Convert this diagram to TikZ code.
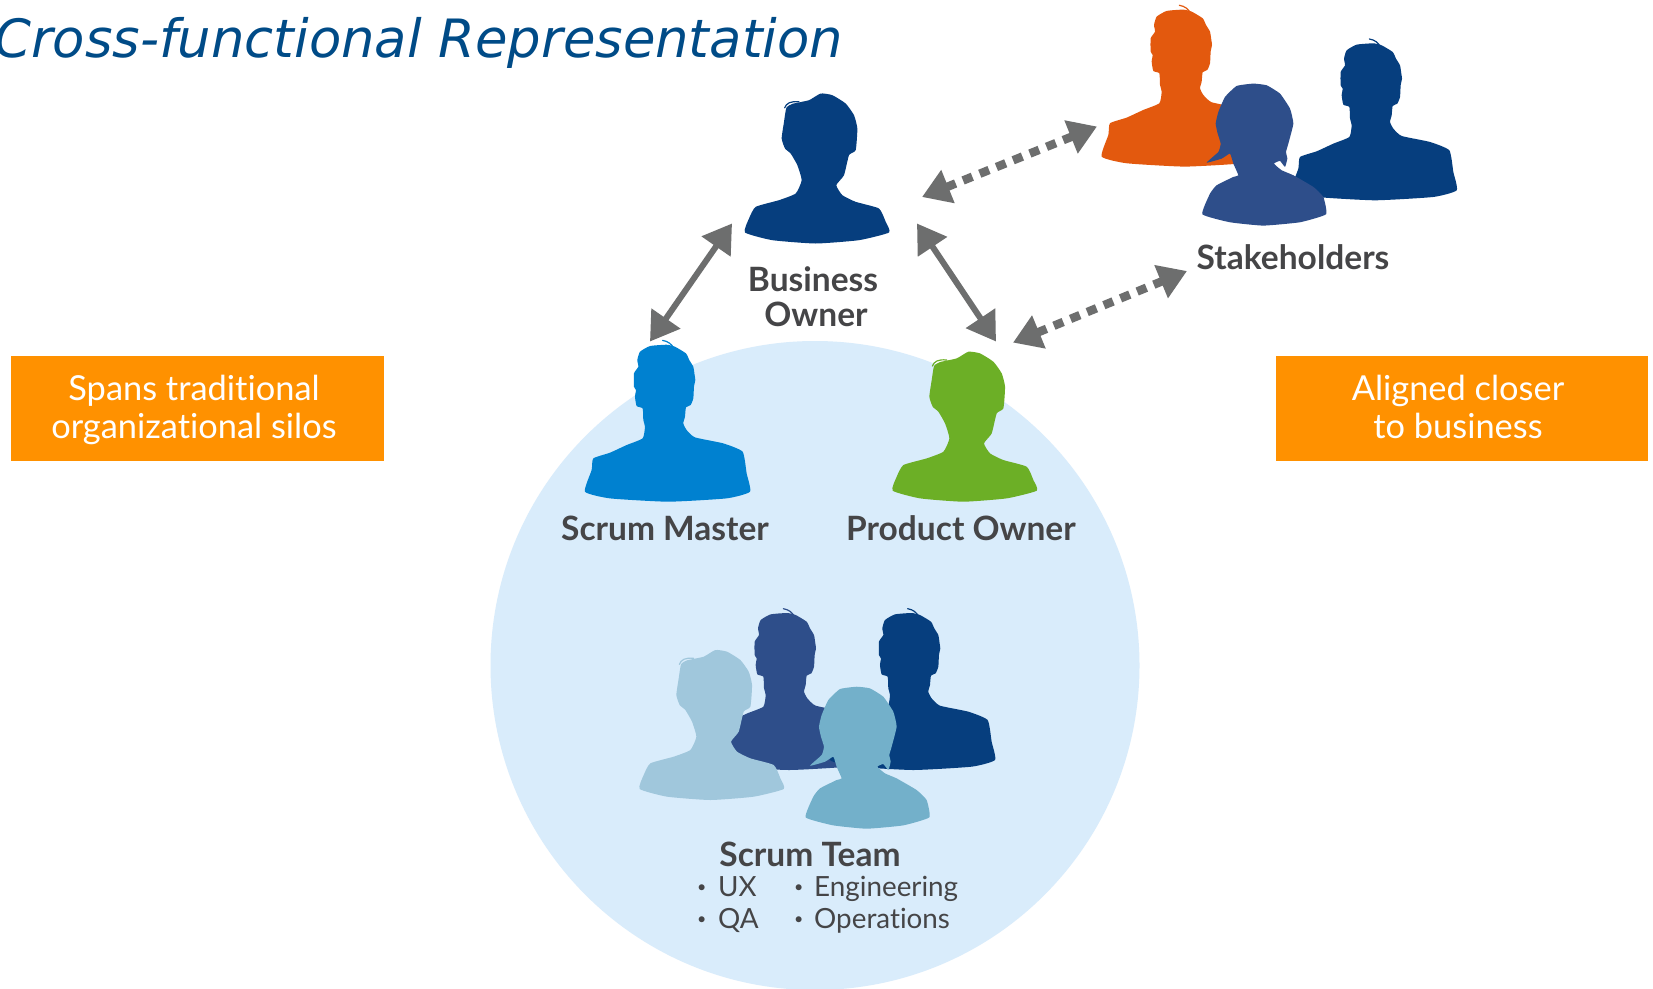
\documentclass[tikz,border=0pt]{standalone}
\usepackage{fontspec}
\setmainfont[RawFeature=-liga]{Lato}
\newfontfamily\titlefont{DejaVu Sans}
\usetikzlibrary{arrows.meta}
\definecolor{navy}{HTML}{063E7E}
\definecolor{midnavy}{HTML}{2E4E8A}
\definecolor{skyblue}{HTML}{0081D0}
\definecolor{leaf}{HTML}{6CAF26}
\definecolor{rust}{HTML}{E3590E}
\definecolor{paleblue}{HTML}{A0C7DC}
\definecolor{teal}{HTML}{73B0CA}
\definecolor{disc}{HTML}{D9ECFB}
\definecolor{boxorange}{HTML}{FF9100}
\definecolor{labelgray}{HTML}{454547}
\definecolor{arrowgray}{HTML}{6D6E6E}
\definecolor{titleblue}{HTML}{004B87}
\newcommand{\manshape}[3]{%
 \begin{scope}[shift={(#1,#2)},x=.3333pt,y=-.3333pt,shift={(-325,-515)}]
 \fill[#3] plot[smooth cycle,tension=.3] coordinates {(345,50)(378,70)(388,90)(400,110)(404,135)(406,150)(402,170)(400,205)(392,225)(378,232)(375,260)(370,280)(380,300)(405,322)(490,340)(548,365)(560,430)(570,485)(500,505)(325,515)(150,505)(75,485)(95,420)(100,385)(150,368)(200,345)(248,325)(255,290)(250,270)(248,235)(230,228)(225,200)(228,180)(222,170)(222,130)(235,110)(232,90)(240,65)(270,48)(320,44)};
 \draw[#3,line width=1.2pt,line cap=round] (308,31) .. controls (325,34) and (335,42) .. (342,56);
 \end{scope}}
\newcommand{\womanshape}[3]{%
 \begin{scope}[shift={(#1,#2)},x=.3333pt,y=-.3333pt,shift={(-1214,-515)}]
 \fill[#3] plot[smooth cycle,tension=.3] coordinates {(1122,108)(1140,96)(1190,85)(1225,65)(1260,70)(1300,95)(1325,130)(1335,170)(1330,235)(1310,250)(1295,310)(1272,340)(1290,370)(1330,390)(1400,410)(1420,450)(1430,482)(1340,505)(1210,515)(1080,505)(998,482)(1010,440)(1030,405)(1100,385)(1150,365)(1168,325)(1155,280)(1135,245)(1118,230)(1108,200)(1115,150)};
 \draw[#3,line width=1.2pt,line cap=round] (1117,108) .. controls (1122,94) and (1135,87) .. (1160,90);
 \end{scope}}
\newcommand{\altshape}[3]{%
 \begin{scope}[shift={(#1,#2)},x=.3333pt,y=-.3333pt,shift={(-742,-716)}]
 \fill[#3] plot[smooth cycle,tension=.25] coordinates {(710,290)(660,297)(625,330)(605,375)(597,410)(603,440)(612,470)(605,495)(570,527)(615,515)(640,500)(650,530)(665,565)(650,570)(600,595)(580,620)(557,682)(640,706)(740,716)(850,706)(928,682)(920,630)(890,600)(830,565)(795,550)(772,530)(790,522)(805,540)(812,515)(808,495)(815,470)(830,410)(820,365)(790,320)(750,295)};
 \end{scope}}
\newcommand{\smallbullet}{\raisebox{4pt}{\fontsize{16}{16}\selectfont•}}
\tikzset{
 namelabel/.style={text=labelgray,font=\fontsize{33.5}{36}\selectfont\bfseries,inner sep=0pt,anchor=base},
 listlabel/.style={text=labelgray,font=\fontsize{27.8}{30}\selectfont,inner sep=0pt,anchor=base west},
 boxtext/.style={text=white,font=\fontsize{34.4}{38}\selectfont,inner sep=0pt,anchor=base},
 solidlink/.style={arrowgray,line width=6pt,{Triangle[length=28pt,width=34pt]}-{Triangle[length=28pt,width=34pt]}},
 dashlink/.style={arrowgray,line width=8.5pt,dash pattern=on 10pt off 8pt,{Triangle[length=28pt,width=34pt]}-{Triangle[length=28pt,width=34pt]}},
}
\begin{document}
\begin{tikzpicture}[x=1pt,y=-1pt]
\useasboundingbox (0,0) rectangle (1653,988);
\clip (0,0) rectangle (1653,988);
\fill[white] (0,0) rectangle (1653,988);
% disc
\fill[disc] (815,665.5) circle[radius=324.5pt];
% title
\node[anchor=base west,inner sep=0pt,text=titleblue,font=\titlefont\itshape\fontsize{52.8}{60}\selectfont] (title) at (-6,57) {Cross-functional Representation};
% orange boxes
\fill[boxorange] (11,356) rectangle (384,461);
\fill[boxorange] (1276,356) rectangle (1648,461);
\node[boxtext] (spans1) at (194,400.5) {Spans traditional};
\node[boxtext] (spans2) at (194,438.5) {organizational silos};
\node[boxtext] (align1) at (1458,400.5) {Aligned closer};
\node[boxtext] (align2) at (1458,438.5) {to business};
% people
\womanshape{817}{243.5}{navy}
\manshape{1185}{166.6}{rust}
\manshape{1375}{200.3}{navy}
\altshape{1264}{225.6}{midnavy}
\manshape{668.3}{501.7}{skyblue}
\womanshape{964.7}{501.7}{leaf}
\manshape{789}{770}{midnavy}
\manshape{913.3}{770}{navy}
\womanshape{711.7}{800}{paleblue}
\altshape{867.3}{828.7}{teal}
% labels
\node[namelabel] (bo1) at (813,291) {Business};
\node[namelabel] (bo2) at (816,326) {Owner};
\node[namelabel] (sh) at (1293,269.5) {Stakeholders};
\node[namelabel] (sm) at (665,540.5) {Scrum Master};
\node[namelabel] (po) at (961,540.5) {Product Owner};
\node[namelabel] (st) at (810,866) {Scrum Team};
\node[listlabel] (ux) at (697,896) {\smallbullet};
\node[listlabel] (uxt) at (718,896) {UX};
\node[listlabel] (qa) at (697,928) {\smallbullet};
\node[listlabel] (qat) at (718,928) {QA};
\node[listlabel] (en) at (794,896) {\smallbullet};
\node[listlabel] (ent) at (814,896) {Engineering};
\node[listlabel] (op) at (794,928) {\smallbullet};
\node[listlabel] (opt) at (814,928) {Operations};
% connectors
\coordinate (boLeft) at (732,223.5);
\coordinate (smTop) at (650,341.5);
\coordinate (boRight) at (917,223.5);
\coordinate (poTop) at (996,341.5);
\coordinate (boSide) at (922,197);
\coordinate (shLeft) at (1097,126.5);
\coordinate (poSide) at (1013,342.6);
\coordinate (shBelow) at (1187,271);
\draw[solidlink] (boLeft) -- (smTop);
\draw[solidlink] (boRight) -- (poTop);
\draw[dashlink] (boSide) -- (shLeft);
\draw[dashlink] (poSide) -- (shBelow);
\end{tikzpicture}
\end{document}
